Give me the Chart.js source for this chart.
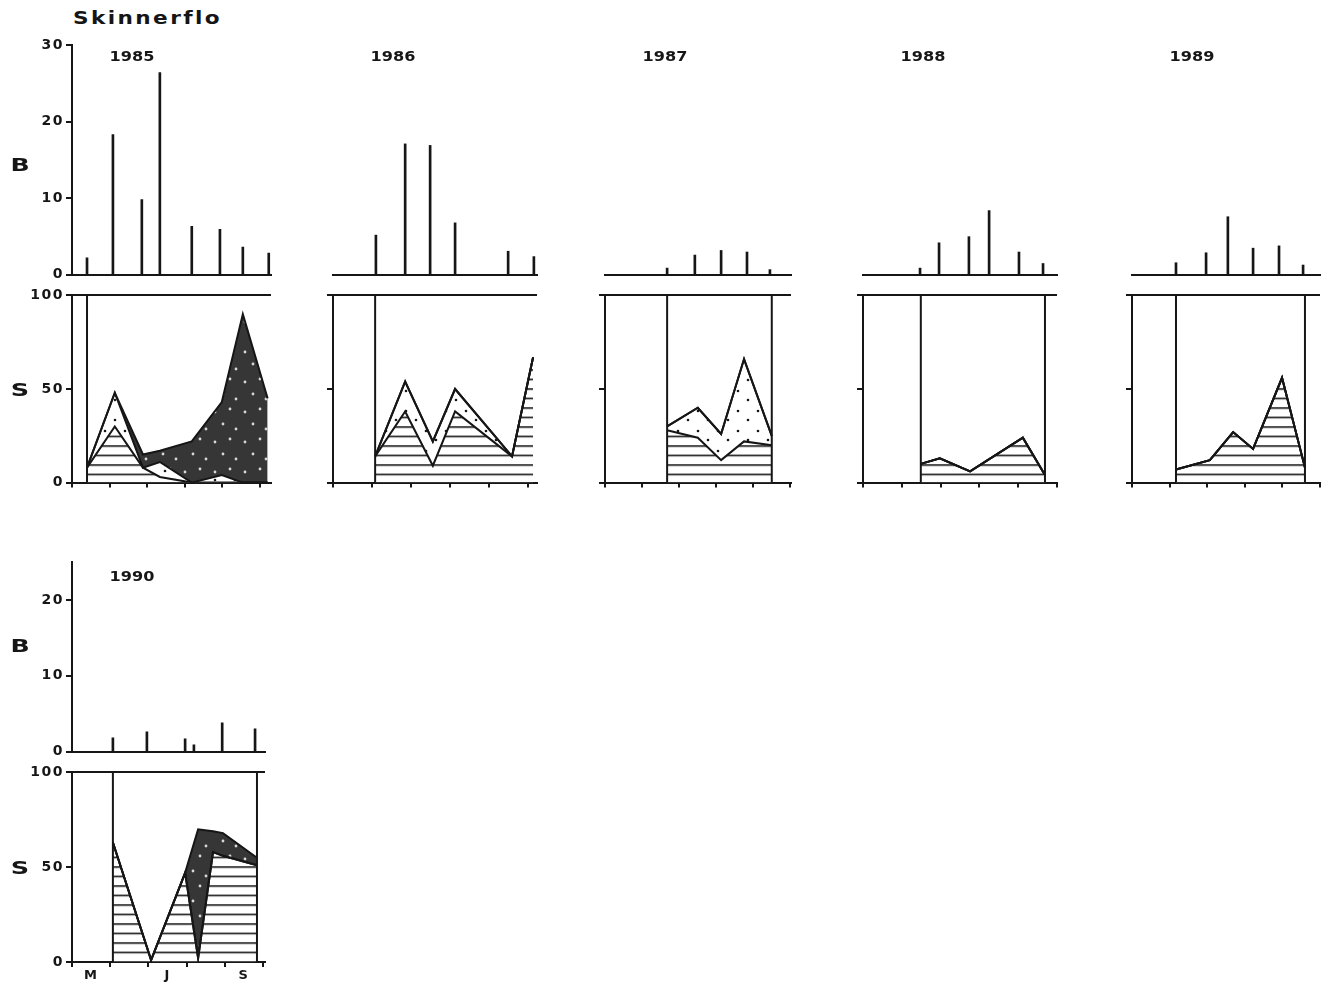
<!DOCTYPE html>
<html>
<head>
<meta charset="utf-8">
<title>Skinnerflo</title>
<script src="https://cdn.jsdelivr.net/npm/chart.js"></script>
<style>
  body { margin: 0; background: #fff; width: 1327px; height: 987px; position: relative; overflow: hidden; }
  canvas { position: absolute; pointer-events: none; }
  #title { position: absolute; left: 73px; top: 7px; font: bold 18px "DejaVu Sans"; letter-spacing: 2px;
           color: #151515; transform: scaleX(1.2); transform-origin: left top; }
</style>
</head>
<body>
<div id="title">Skinnerflo</div>
<script>
  const years = ['1985', '1986', '1987', '1988', '1989', '1990'];
  const monthLabels = ['M', 'J', 'S'];
  const monthLabelAt = [0.5, 2.5, 4.5];

  // B: sampling dates (months after 1 May) and values
  const bDate85 = [0.40, 1.09, 1.86, 2.34, 3.19, 3.94, 4.55, 5.24];
  const bVal85  = [2.2, 18.3, 9.8, 26.4, 6.3, 5.9, 3.6, 2.8];
  const bDate86 = [1.10, 1.85, 2.49, 3.13, 4.49, 5.15];
  const bVal86  = [5.2, 17.1, 16.9, 6.8, 3.1, 2.4];
  const bDate87 = [1.68, 2.43, 3.14, 3.84, 4.46];
  const bVal87  = [0.9, 2.6, 3.2, 3.0, 0.7];
  const bDate88 = [1.47, 1.96, 2.73, 3.25, 4.02, 4.64];
  const bVal88  = [0.9, 4.2, 5.0, 8.4, 3.0, 1.5];
  const bDate89 = [1.17, 1.97, 2.55, 3.22, 3.91, 4.55];
  const bVal89  = [1.6, 2.9, 7.6, 3.5, 3.8, 1.3];
  const bDate90 = [1.07, 1.96, 2.96, 3.19, 3.93, 4.79];
  const bVal90  = [1.8, 2.6, 1.7, 0.9, 3.8, 3.0];

  // S: share (%) of the three groups, stacked hatched / dotted / dark
  const sDate85 = [0.40, 1.14, 1.89, 2.34, 3.19, 3.99, 4.55, 5.21];
  const hatch85 = [8, 30, 8, 3, 0, 0, 0, 0];
  const dots85  = [0, 18, 0, 8, 0, 4, 0, 0];
  const dark85  = [0, 0, 7, 6, 22, 39, 90, 45];
  const sDate86 = [1.08, 1.85, 2.56, 3.13, 4.59, 5.13];
  const hatch86 = [14, 38, 9, 38, 14, 67];
  const dots86  = [0, 16, 13, 12, 0, 0];
  const dark86  = [0, 0, 0, 0, 0, 0];
  const sDate87 = [1.68, 2.51, 3.14, 3.76, 4.51];
  const hatch87 = [28, 24, 12, 22, 20];
  const dots87  = [2, 16, 14, 44, 5];
  const dark87  = [0, 0, 0, 0, 0];
  const sDate88 = [1.49, 1.98, 2.76, 4.12, 4.69];
  const hatch88 = [10, 13, 6, 24, 4];
  const dots88  = [0, 0, 0, 0, 0];
  const dark88  = [0, 0, 0, 0, 0];
  const sDate89 = [1.17, 2.07, 2.69, 3.22, 3.99, 4.60];
  const hatch89 = [7, 12, 27, 18, 56, 8];
  const dots89  = [0, 0, 0, 0, 0, 0];
  const dark89  = [0, 0, 0, 0, 0, 0];
  const sDate90 = [1.07, 2.07, 2.96, 3.30, 3.69, 3.95, 4.84];
  const hatch90 = [63, 1, 47, 2, 58, 56, 51];
  const dots90  = [0, 0, 0, 0, 0, 0, 0];
  const dark90  = [0, 0, 0, 68, 11, 12, 4];

  // first and last sampling of each season
  const sStart = [0.40, 1.08, 1.68, 1.49, 1.17, 1.07];
  const sEnd   = [null, null, 4.51, 4.69, 4.60, 4.84];

  const bDates = [bDate85, bDate86, bDate87, bDate88, bDate89, bDate90];
  const bValues = [bVal85, bVal86, bVal87, bVal88, bVal89, bVal90];
  const sDates = [sDate85, sDate86, sDate87, sDate88, sDate89, sDate90];
  const hatchShares = [hatch85, hatch86, hatch87, hatch88, hatch89, hatch90];
  const dotShares = [dots85, dots86, dots87, dots88, dots89, dots90];
  const darkShares = [dark85, dark86, dark87, dark88, dark89, dark90];

  // page layout of the panels
  const cols = [
    {x0: 72, px: 37.6, xMax: 5.3, row: 0},
    {x0: 333, px: 39, xMax: 5.23, row: 0},
    {x0: 605, px: 37, xMax: 5.03, row: 0},
    {x0: 863, px: 38.8, xMax: 5.0, row: 0},
    {x0: 1132, px: 37.6, xMax: 5.0, row: 0},
    {x0: 72, px: 38.2, xMax: 5.05, row: 1}
  ];
  const rows = [
    {bTop: 45, bMax: 30, bH: 230, sTop: 295, sH: 189, yearDy: 12, bDy: 121},
    {bTop: 562, bMax: 25, bH: 190, sTop: 772, sH: 190, yearDy: 15, bDy: 85}
  ];

  const INK = '#161616';
  const tickFont = {family: '"DejaVu Sans"', size: 14, weight: 'bold'};
  Chart.defaults.font.family = '"DejaVu Sans"';
  Chart.defaults.color = INK;

  // wide lettering of the original
  const spacing = {
    id: 'spacing',
    beforeLayout(chart) { chart.ctx.letterSpacing = '1.5px'; },
    beforeDraw(chart) { chart.ctx.letterSpacing = '1.5px'; }
  };
  const notes = {
    id: 'notes',
    afterDraw(chart, args, opts) {
      const {ctx, chartArea} = chart;
      (opts.items || []).forEach(n => {
        ctx.save();
        ctx.letterSpacing = '0px';
        ctx.font = 'bold ' + n.size + 'px "DejaVu Sans"';
        ctx.fillStyle = INK;
        ctx.textAlign = 'center';
        ctx.textBaseline = 'middle';
        ctx.translate(chartArea.left + n.dx, chartArea.top + n.dy);
        ctx.scale(n.stretch, 1);
        ctx.fillText(n.text, 0, 0);
        ctx.restore();
      });
    }
  };
  Chart.register(spacing, notes);

  function makeCanvas(left, top, w, h) {
    const c = document.createElement('canvas');
    c.width = w; c.height = h;
    c.style.left = left + 'px'; c.style.top = top + 'px';
    c.style.width = w + 'px'; c.style.height = h + 'px';
    document.body.appendChild(c);
    return c;
  }

  function hatchPattern(ctx, baseY) {
    const t = document.createElement('canvas');
    t.width = 8; t.height = 19;
    const g = t.getContext('2d');
    g.fillStyle = '#fff'; g.fillRect(0, 0, 8, 19);
    g.fillStyle = INK; g.fillRect(0, 0, 8, 1.6); g.fillRect(0, 9.5, 8, 1.6);
    const pat = ctx.createPattern(t, 'repeat');
    pat.setTransform(new DOMMatrix().translate(0, baseY - 0.8));
    return pat;
  }

  function dotPattern(ctx, bg, fg, size, dots, r) {
    const t = document.createElement('canvas');
    t.width = size; t.height = size;
    const g = t.getContext('2d');
    g.fillStyle = bg; g.fillRect(0, 0, size, size);
    g.fillStyle = fg;
    dots.forEach(d => { g.beginPath(); g.arc(d[0], d[1], r, 0, Math.PI * 2); g.fill(); });
    return ctx.createPattern(t, 'repeat');
  }

  function drawB(i) {
    const p = cols[i], r = rows[p.row], first = p.x0 < 100;
    const padL = 6, axisW = 66, padT = 14, padR = 8, axisH = 2, padB = 8;
    const w = Math.round(padL + axisW + p.xMax * p.px + padR);
    const h = Math.round(padT + r.bH + axisH + padB);
    const canvas = makeCanvas(p.x0 - padL - axisW, r.bTop - padT, w, h);
    const items = [{text: years[i], dx: 60, dy: r.yearDy, size: 14, stretch: 1.15}];
    if (first) items.push({text: 'B', dx: -52, dy: r.bDy, size: 18, stretch: 1.4});
    new Chart(canvas, {
      type: 'bar',
      data: {datasets: [{
        data: bDates[i].map((x, k) => ({x: x, y: bValues[i][k]})),
        backgroundColor: INK, borderWidth: 0, barThickness: 2
      }]},
      options: {
        responsive: false, animation: false,
        layout: {padding: {left: padL, top: padT, right: padR, bottom: padB}},
        plugins: {legend: {display: false}, tooltip: {enabled: false}, notes: {items: items}},
        scales: {
          x: {type: 'linear', min: 0, max: p.xMax, offset: false,
              grid: {display: false}, ticks: {display: false},
              border: {display: true, color: INK, width: 2},
              afterFit: s => { s.height = axisH; }},
          y: {min: 0, max: r.bMax,
              ticks: {display: first, stepSize: 10, includeBounds: false, padding: 2, color: INK, font: tickFont},
              grid: {display: first, drawOnChartArea: false, tickLength: 6, color: INK, lineWidth: 2},
              border: {display: first, color: INK, width: 2},
              afterFit: s => { s.width = axisW; }}
        }
      }
    });
  }

  function drawS(i) {
    const p = cols[i], r = rows[p.row], first = p.x0 < 100, bottom = p.row === 1;
    const padL = 6, axisW = 66, padT = 10, padR = 8, axisH = 5, labelH = bottom ? 18 : 0, padB = 4;
    const w = Math.round(padL + axisW + p.xMax * p.px + padR);
    const h = Math.round(padT + r.sH + axisH + labelH + padB);
    const canvas = makeCanvas(p.x0 - padL - axisW, r.sTop - padT, w, h);
    const ctx = canvas.getContext('2d');
    const hatchFill = hatchPattern(ctx, padT + r.sH);
    const dotFill = dotPattern(ctx, '#fff', INK, 20, [[5, 6], [15, 15]], 1.3);
    const darkFill = dotPattern(ctx, '#363636', '#d8d8d8', 30, [[5, 7], [20, 4], [13, 19], [26, 24]], 1.4);

    const xs = sDates[i];
    const lower = hatchShares[i];
    const mid = lower.map((v, k) => v + dotShares[i][k]);
    const top = mid.map((v, k) => v + darkShares[i][k]);
    const pts = ys => xs.map((x, k) => ({x: x, y: ys[k]}));
    const line = {borderColor: INK, borderWidth: 2, pointRadius: 0, tension: 0};

    const datasets = [
      Object.assign({data: pts(lower), fill: 'origin', backgroundColor: hatchFill}, line),
      Object.assign({data: pts(mid), fill: '-1', backgroundColor: dotFill}, line),
      Object.assign({data: pts(top), fill: '-1', backgroundColor: darkFill}, line)
    ];
    [sStart[i], sEnd[i]].forEach(v => {
      if (v !== null) datasets.push(Object.assign({data: [{x: v, y: 0}, {x: v, y: 100}], fill: false}, line));
    });

    const items = [];
    if (first) items.push({text: 'S', dx: -52, dy: r.sH / 2 + 2, size: 17, stretch: 1.5});

    const scales = {
      x: {type: 'linear', min: 0, max: p.xMax, weight: 0,
          ticks: {stepSize: 1, includeBounds: false, display: false},
          grid: {display: true, drawOnChartArea: false, drawTicks: true, tickLength: 5, color: INK, lineWidth: 2},
          border: {display: true, color: INK, width: 2},
          afterFit: s => { s.height = axisH; }},
      y: {min: 0, max: 100,
          ticks: {stepSize: 50, includeBounds: false, padding: 2, color: INK, font: tickFont,
                  callback: v => first ? String(v) : ''},
          grid: {drawOnChartArea: true, tickLength: 6, lineWidth: 2, tickColor: INK,
                 color: c => (c.tick && c.tick.value === 100) ? INK : 'rgba(0,0,0,0)'},
          border: {display: true, color: INK, width: 2},
          afterFit: s => { s.width = axisW; }}
    };
    if (bottom) {
      scales.xm = {type: 'linear', position: 'bottom', min: 0, max: p.xMax, weight: 1,
        afterBuildTicks: s => { s.ticks = monthLabelAt.map(v => ({value: v})); },
        ticks: {autoSkip: false, maxRotation: 0, padding: 1, color: INK,
                font: {family: '"DejaVu Sans"', size: 13, weight: 'bold'},
                callback: (v, k) => monthLabels[k]},
        grid: {display: false, drawTicks: false}, border: {display: false},
        afterFit: s => { s.height = labelH; }};
    }

    new Chart(canvas, {
      type: 'line',
      data: {datasets: datasets},
      options: {
        responsive: false, animation: false,
        layout: {padding: {left: padL, top: padT, right: padR, bottom: padB}},
        plugins: {legend: {display: false}, tooltip: {enabled: false},
                  filler: {drawTime: 'beforeDatasetsDraw', propagate: false}, notes: {items: items}},
        scales: scales
      }
    });
  }

  for (let i = 0; i < years.length; i++) {
    drawB(i);
    drawS(i);
  }
</script>
</body>
</html>
